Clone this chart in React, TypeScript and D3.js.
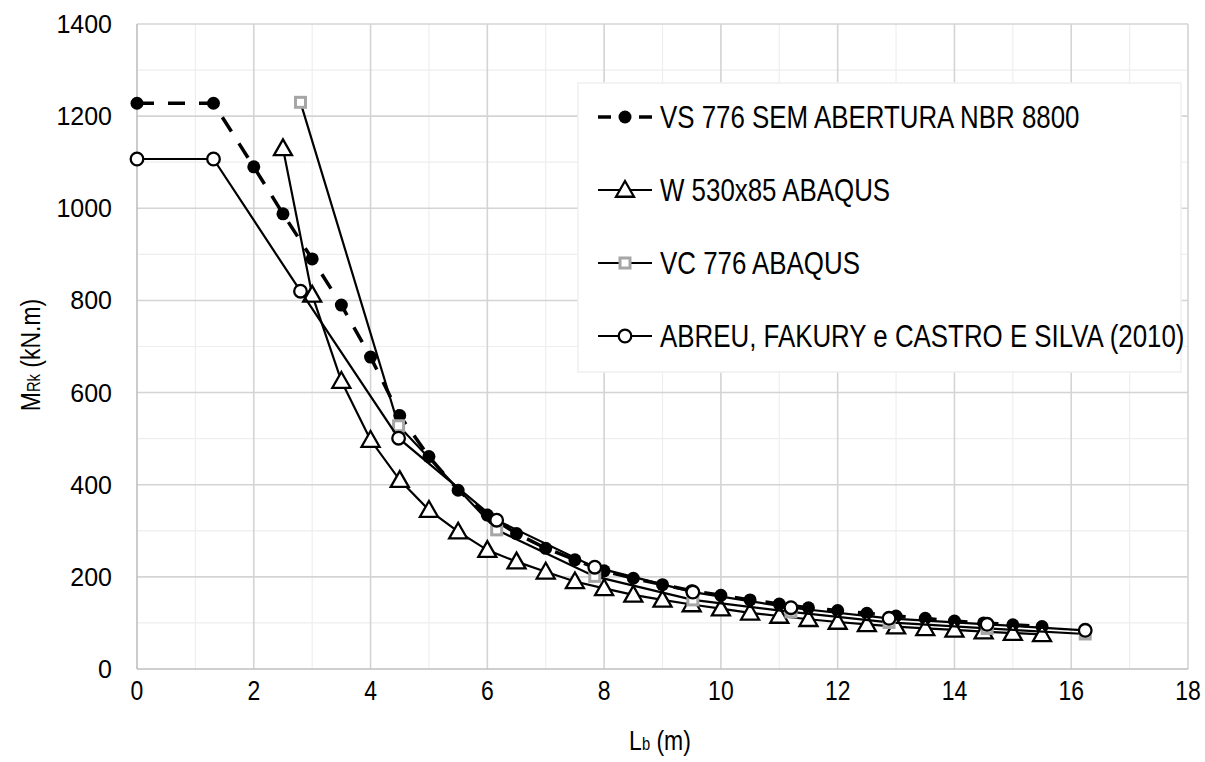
import React from 'react';
import * as d3 from 'd3';

// Lb (m) and MRk (kN.m)
const nbrX = [0, 1.31, 2, 2.5, 3, 3.5, 4, 4.5, 5, 5.5, 6, 6.5, 7, 7.5, 8, 8.5, 9, 9.5, 10, 10.5, 11, 11.5, 12, 12.5, 13, 13.5, 14, 14.5, 15, 15.5];
const nbrY = [1228, 1228, 1090, 988, 890, 790, 677, 550, 461, 388, 334, 294, 262, 237, 213, 197, 183, 170, 160, 150, 141, 133, 127, 121, 115, 110, 104, 100, 96, 92];

const w530X = [2.5, 3, 3.5, 4, 4.5, 5, 5.5, 6, 6.5, 7, 7.5, 8, 8.5, 9, 9.5, 10, 10.5, 11, 11.5, 12, 12.5, 13, 13.5, 14, 14.5, 15, 15.5];
const w530Y = [1130, 812, 625, 497, 410, 345, 298, 258, 233, 211, 190, 175, 161, 150, 140, 131, 122, 115, 108, 102, 97, 92, 88, 85, 81, 78, 75];

const vcX = [2.8, 4.48, 6.16, 7.84, 9.52, 11.2, 12.88, 14.56, 16.24];
const vcY = [1230, 528, 302, 201, 150, 124, 101, 88, 76];

const abreuX = [0, 1.31, 2.8, 4.48, 6.16, 7.84, 9.52, 11.2, 12.88, 14.56, 16.24];
const abreuY = [1107, 1107, 820, 501, 323, 221, 167, 133, 110, 97, 84];

const xTicks = [0, 2, 4, 6, 8, 10, 12, 14, 16, 18];
const yTicks = [0, 200, 400, 600, 800, 1000, 1200, 1400];

const legendLabels = [
  'VS 776 SEM ABERTURA NBR 8800',
  'W 530x85 ABAQUS',
  'VC 776 ABAQUS',
  'ABREU, FAKURY e CASTRO E SILVA (2010)',
];

const font = '"Liberation Sans", Arial, sans-serif';

const x = d3.scaleLinear().domain([0, 18]).range([137, 1188]);
const y = d3.scaleLinear().domain([0, 1400]).range([669, 24]);

const pts = (xs: number[], ys: number[]) => xs.map((v, i) => [v, ys[i]] as [number, number]);
const line = d3.line<[number, number]>().x(d => x(d[0])).y(d => y(d[1]));

// narrow text: scale glyphs horizontally around the anchor point
const NText = ({ x: tx, y: ty, size, anchor, rotate, sq = 0.82, children }: any) => (
  <text
    transform={`translate(${tx},${ty})${rotate ? ` rotate(${rotate})` : ''} scale(${sq},1)`}
    textAnchor={anchor || 'start'} fontFamily={font} fontSize={size} fill="#000"
  >
    {children}
  </text>
);

const Marker = ({ kind, cx, cy }: { kind: string; cx: number; cy: number }) => {
  if (kind === 'dot') return <circle cx={cx} cy={cy} r={6.5} fill="#000" />;
  if (kind === 'tri') {
    const s = 9;
    return (
      <path
        d={`M${cx},${cy - s}L${cx + s},${cy + s * 0.75}L${cx - s},${cy + s * 0.75}Z`}
        fill="#fff" stroke="#000" strokeWidth={2.3}
      />
    );
  }
  if (kind === 'sq') return <rect x={cx - 5} y={cy - 5} width={10} height={10} fill="#fff" stroke="#a6a6a6" strokeWidth={3} />;
  return <circle cx={cx} cy={cy} r={6.3} fill="#fff" stroke="#000" strokeWidth={2.3} />;
};

const series = [
  { data: pts(nbrX, nbrY), kind: 'dot', dash: '17,14', width: 3.5 },
  { data: pts(w530X, w530Y), kind: 'tri', dash: undefined, width: 2.2 },
  { data: pts(vcX, vcY), kind: 'sq', dash: undefined, width: 2.2 },
  { data: pts(abreuX, abreuY), kind: 'circ', dash: undefined, width: 2.2 },
];

export default function App() {
  const minorX = d3.range(1, 18, 2);
  const minorY = d3.range(100, 1400, 200);
  const legendRows = [117, 190, 263, 336];

  return (
    <svg width={1205} height={762} style={{ display: 'block', position: 'absolute', left: 0, top: 0, background: '#fff' }}>
      <rect width={1205} height={762} fill="#fff" />
      {/* minor grid */}
      {minorX.map(v => <line key={'mx' + v} x1={x(v)} x2={x(v)} y1={y(1400)} y2={y(0)} stroke="#eeeeee" strokeWidth={1.2} />)}
      {minorY.map(v => <line key={'my' + v} x1={x(0)} x2={x(18)} y1={y(v)} y2={y(v)} stroke="#eeeeee" strokeWidth={1.2} />)}
      {/* major grid */}
      {xTicks.slice(1).map(v => <line key={'gx' + v} x1={x(v)} x2={x(v)} y1={y(1400)} y2={y(0)} stroke="#d4d4d4" strokeWidth={1.6} />)}
      {yTicks.slice(1).map(v => <line key={'gy' + v} x1={x(0)} x2={x(18)} y1={y(v)} y2={y(v)} stroke="#d4d4d4" strokeWidth={1.6} />)}
      {/* axes */}
      <line x1={x(0)} x2={x(0)} y1={y(1400)} y2={y(0)} stroke="#bfbfbf" strokeWidth={1.6} />
      <line x1={x(0)} x2={x(18)} y1={y(0)} y2={y(0)} stroke="#bfbfbf" strokeWidth={1.6} />

      {/* tick labels */}
      {yTicks.map(v => (
        <text key={'ty' + v} x={112} y={y(v) + 9} textAnchor="end" fontFamily={font} fontSize={25} fill="#000">{v}</text>
      ))}
      {xTicks.map(v => (
        <NText key={'tx' + v} x={x(v)} y={y(0) + 31} size={28} anchor="middle">{v}</NText>
      ))}

      {/* axis titles */}
      <NText x={660} y={750} size={28} anchor="middle">
        L<tspan fontSize={18}>b</tspan> (m)
      </NText>
      <NText x={40} y={355} size={28} anchor="middle" rotate={-90}>
        M<tspan fontSize={18}>Rk</tspan> (kN.m)
      </NText>

      {/* series */}
      {series.map((s, i) => (
        <g key={'s' + i}>
          <path d={line(s.data) || ''} fill="none" stroke="#000" strokeWidth={s.width} strokeDasharray={s.dash} />
          {s.data.map((d, j) => <Marker key={j} kind={s.kind} cx={x(d[0])} cy={y(d[1])} />)}
        </g>
      ))}

      {/* legend */}
      <rect x={578} y={83} width={603} height={289} fill="#fff" stroke="#efefef" strokeWidth={1.5} />
      {legendRows.map((ry, i) => (
        <g key={'lg' + i}>
          {i === 0 ? (
            <>
              <line x1={598} x2={611} y1={ry} y2={ry} stroke="#000" strokeWidth={3.5} />
              <line x1={639} x2={652} y1={ry} y2={ry} stroke="#000" strokeWidth={3.5} />
            </>
          ) : (
            <line x1={598} x2={652} y1={ry} y2={ry} stroke="#000" strokeWidth={2.2} />
          )}
          <Marker kind={series[i].kind} cx={625} cy={ry} />
          <NText x={660} y={ry + 11} size={31} sq={0.835}>{legendLabels[i]}</NText>
        </g>
      ))}
    </svg>
  );
}
